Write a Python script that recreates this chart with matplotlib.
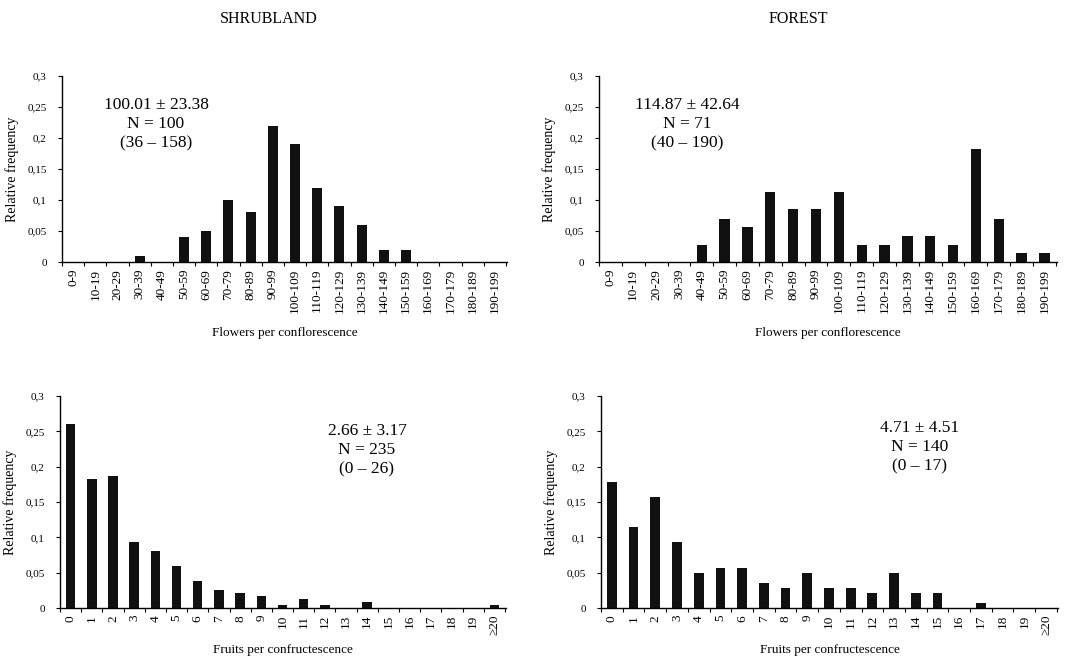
import numpy as np
import matplotlib
matplotlib.use('Agg')
import matplotlib.pyplot as plt

plt.rcParams['font.family'] = ['Liberation Serif', 'DejaVu Serif']

flower_bins = ['0-9', '10-19', '20-29', '30-39', '40-49', '50-59', '60-69', '70-79', '80-89', '90-99',
               '100-109', '110-119', '120-129', '130-139', '140-149', '150-159', '160-169', '170-179',
               '180-189', '190-199']
fruit_bins = [str(i) for i in range(20)] + ['\u226520']

shrub_flowers = [0, 0, 0, 0.01, 0, 0.04, 0.05, 0.10, 0.08, 0.22,
                 0.19, 0.12, 0.09, 0.06, 0.02, 0.02, 0, 0, 0, 0]
forest_flowers = [0, 0, 0, 0, 0.028, 0.070, 0.056, 0.113, 0.085, 0.085,
                  0.113, 0.028, 0.028, 0.042, 0.042, 0.028, 0.183, 0.070, 0.014, 0.014]
shrub_fruits = [0.260, 0.183, 0.187, 0.094, 0.081, 0.060, 0.038, 0.026, 0.021, 0.017,
                0.004, 0.013, 0.004, 0, 0.0085, 0, 0, 0, 0, 0, 0.004]
forest_fruits = [0.179, 0.114, 0.157, 0.093, 0.050, 0.057, 0.057, 0.036, 0.029, 0.050,
                 0.029, 0.029, 0.021, 0.050, 0.021, 0.021, 0, 0.007, 0, 0, 0]

stats = {
    'sf': '100.01 \u00b1 23.38\nN = 100\n(36 \u2013 158)',
    'ff': '114.87 \u00b1 42.64\nN = 71\n(40 \u2013 190)',
    'sr': '2.66 \u00b1 3.17\nN = 235\n(0 \u2013 26)',
    'fr': '4.71 \u00b1 4.51\nN = 140\n(0 \u2013 17)',
}

W, H = 1066, 661
fig = plt.figure(figsize=(W / 100, H / 100), dpi=100)


def make_ax(left, right, bottom, top):
    return fig.add_axes([left / W, 1 - bottom / H, (right - left) / W, (bottom - top) / H])


def draw(ax, labels, values, xlabel, text, tx, ty, ylab, lpad):
    n = len(labels)
    x = np.arange(n)
    ax.bar(x, values, width=0.45, color='#111111')
    ax.set_xlim(-0.42, n - 0.45)
    ax.set_ylim(0, 0.3)
    ax.spines['top'].set_visible(False)
    ax.spines['right'].set_visible(False)
    ax.spines['left'].set_linewidth(1.0)
    ax.spines['bottom'].set_linewidth(1.0)
    ax.set_yticks(np.arange(0, 0.31, 0.05))
    ax.set_yticklabels(['0', '0,05', '0,1', '0,15', '0,2', '0,25', '0,3'], fontsize=8)
    ax.tick_params(axis='y', length=3, width=0.8, pad=8)
    ax.set_xticks(x)
    ax.set_xticklabels(labels, rotation=90, fontsize=9.5)
    ax.tick_params(axis='x', which='major', length=0, pad=5)
    ax.set_xticks(np.arange(-0.5, n - 0.4, 1.0), minor=True)
    ax.tick_params(axis='x', which='minor', length=3, width=0.8, direction='out')
    ax.set_xlabel(xlabel, fontsize=9.5, labelpad=lpad)
    ax.set_ylabel(ylab, fontsize=10, labelpad=6)
    ax.text(tx, ty, text, transform=ax.transAxes, ha='center', va='top',
            fontsize=12.5, linespacing=1.25)


ax1 = make_ax(62, 507, 262, 76)
draw(ax1, flower_bins, shrub_flowers, 'Flowers per conflorescence', stats['sf'],
     (156 - 62) / 445, (262 - 97) / 186, 'Relative frequency', 10)
ax2 = make_ax(599, 1057, 262, 76)
draw(ax2, flower_bins, forest_flowers, 'Flowers per conflorescence', stats['ff'],
     (687 - 599) / 458, (262 - 97) / 186, 'Relative frequency', 10)
ax3 = make_ax(60, 506, 608, 396)
draw(ax3, fruit_bins, shrub_fruits, 'Fruits per confructescence', stats['sr'],
     (367 - 60) / 446, (608 - 423) / 212, 'Relative frequency', 6)
ax4 = make_ax(601, 1058, 608, 396)
draw(ax4, fruit_bins, forest_fruits, 'Fruits per confructescence', stats['fr'],
     (920 - 601) / 457, (608 - 420) / 212, 'Relative frequency', 6)

fig.text(269 / W, 1 - 19 / H, 'SHRUBLAND', ha='center', va='center', fontsize=11.5)
fig.text(798 / W, 1 - 19 / H, 'FOREST', ha='center', va='center', fontsize=11.5)

fig.savefig('out.png', dpi=100)
